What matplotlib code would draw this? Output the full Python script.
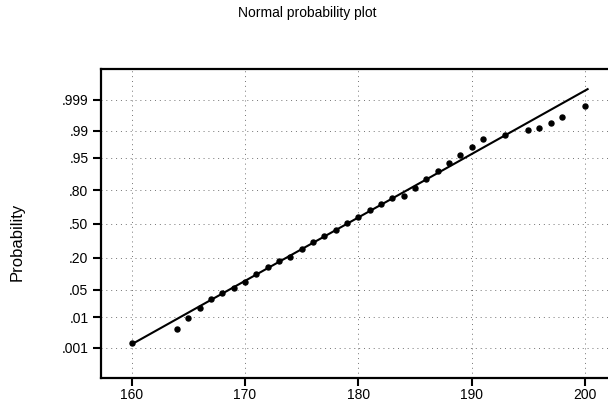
"""Normal probability plot."""

import matplotlib
matplotlib.use("Agg")
import matplotlib.pyplot as plt
from statistics import NormalDist

plt.rcParams["font.family"] = ["Liberation Sans", "DejaVu Sans"]

# sample values (x) and their plotted normal scores (z)
sample_x = [160, 164, 165, 166, 167, 168, 169, 170, 171, 172, 173, 174, 175,
            176, 177, 178, 179, 180, 181, 182, 183, 184, 185, 186, 187, 188,
            189, 190, 191, 193, 195, 196, 197, 198, 200]
sample_z = [-2.96, -2.61, -2.35, -2.10, -1.87, -1.73, -1.60, -1.45, -1.25,
            -1.08, -0.93, -0.83, -0.62, -0.46, -0.30, -0.15, 0.02, 0.17,
            0.35, 0.50, 0.65, 0.70, 0.89, 1.12, 1.32, 1.53, 1.72, 1.93,
            2.11, 2.22, 2.34, 2.40, 2.51, 2.67, 2.94]

# fitted reference line end points
fit_x = [160.05, 200.25]
fit_z = [-2.99, 3.36]

prob_ticks = [0.001, 0.01, 0.05, 0.20, 0.50, 0.80, 0.95, 0.99, 0.999]
prob_labels = [".001", ".01", ".05", ".20", ".50", ".80", ".95", ".99", ".999"]
x_ticks = [160, 170, 180, 190, 200]

nd = NormalDist()
W, H = 608, 407
fig = plt.figure(figsize=(W / 100, H / 100), dpi=100)
ax = fig.add_axes([101 / W, 1 - 378 / H, (W - 101) / W, (378 - 69) / H])

ax.plot(fit_x, fit_z, color="black", linewidth=1.5, zorder=3)
ax.plot(sample_x, sample_z, linestyle="none", marker="o", markersize=3.6,
        color="black", zorder=4)

ax.set_xlim(157.29, 202.05)
ax.set_ylim(-3.838, 3.862)
ax.set_xticks(x_ticks)
ax.set_yticks([nd.inv_cdf(p) for p in prob_ticks])
ax.set_yticklabels(prob_labels)

ax.grid(True, color="0.45", linestyle=(0, (1, 4)), linewidth=0.7)
ax.spines["right"].set_visible(False)
for side in ("left", "bottom", "top"):
    ax.spines[side].set_linewidth(1.6)
ax.tick_params(axis="both", direction="out", length=6, width=1.5,
               labelsize=10, colors="black")
ax.tick_params(axis="x", pad=1)
ax.tick_params(axis="y", pad=3)

ax.set_ylabel("Probability", fontsize=12)
ax.yaxis.set_label_coords(-0.15, 0.44)

fig.text(0.505, 0.969, "Normal probability plot", ha="center", va="center",
         fontsize=10)

fig.savefig("out.png", dpi=100)
plt.close(fig)
